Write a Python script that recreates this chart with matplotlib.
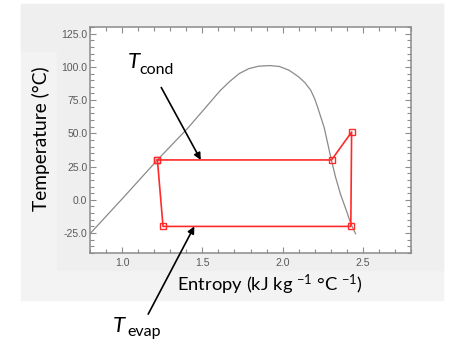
import matplotlib
matplotlib.use("Agg")
import matplotlib.pyplot as plt
from matplotlib.patches import Rectangle
from matplotlib.ticker import MultipleLocator, FormatStrFormatter

# saturation dome (entropy, temperature)
dome_s = [0.80, 1.01, 1.22, 1.41, 1.61, 1.67, 1.73, 1.79, 1.85, 1.92, 1.98,
          2.04, 2.10, 2.14, 2.175, 2.20, 2.22, 2.26, 2.30, 2.33, 2.36, 2.40,
          2.425, 2.455]
dome_t = [-25.5, 2.0, 30.0, 54.0, 82.0, 89.0, 95.0, 98.7, 100.5, 101.0, 100.3,
          97.5, 92.5, 88.0, 82.5, 76.0, 69.0, 54.0, 32.0, 17.0, 4.5, -9.0,
          -18.0, -25.5]

# refrigeration cycle points
cycle_s = [1.22, 1.255, 2.425, 2.43, 2.305, 1.22]
cycle_t = [30.0, -20.0, -20.0, 51.0, 30.0, 30.0]

W, H = 449, 347


def px(x, y):
    # picture pixels -> figure fraction
    return x / W, 1 - y / H


plt.rcParams['mathtext.fontset'] = 'custom'
plt.rcParams['mathtext.rm'] = 'Lato'
plt.rcParams['mathtext.it'] = 'Lato:italic'
plt.rcParams['mathtext.default'] = 'regular'

fig = plt.figure(figsize=(W / 100, H / 100), dpi=100)
fig.patch.set_facecolor('white')


# grey background panels of the pasted screenshot
def panel(x0, y0, x1, y1, color):
    fx0, fy1 = px(x0, y0)
    fx1, fy0 = px(x1, y1)
    fig.patches.append(Rectangle((fx0, fy0), fx1 - fx0, fy1 - fy0,
                                 transform=fig.transFigure, color=color,
                                 zorder=-3))


panel(21, 4, 443, 300, '#f3f3f3')
panel(57, 4, 443, 270, '#efefef')
panel(21, 4, 57, 51, '#efefef')

l, t = px(90, 27)
r, b = px(411, 253)
ax = fig.add_axes([l, b, r - l, t - b])
ax.set_facecolor('white')

ax.plot(dome_s, dome_t, color='#8a8a8a', lw=0.9)
ax.plot(cycle_s, cycle_t, color='#ff2a2a', lw=1.2, marker='s', ms=4,
        mfc='none', mec='#ff2a2a', mew=1.0)

ax.set_xlim(0.8, 2.8)
ax.set_ylim(-40, 130)
ax.xaxis.set_major_locator(MultipleLocator(0.5))
ax.xaxis.set_minor_locator(MultipleLocator(0.1))
ax.yaxis.set_major_locator(MultipleLocator(25))
ax.yaxis.set_minor_locator(MultipleLocator(5))
ax.xaxis.set_major_formatter(FormatStrFormatter('%.1f'))
ax.yaxis.set_major_formatter(FormatStrFormatter('%.1f'))

ax.tick_params(which='both', direction='in', top=True, right=True,
               color='#8c8c8c', width=0.8)
ax.tick_params(which='major', length=4.5)
ax.tick_params(which='minor', length=2.8)
ax.tick_params(axis='y', pad=2)
ax.tick_params(axis='x', pad=3.5)
for lab in ax.get_xticklabels() + ax.get_yticklabels():
    lab.set_fontfamily('Liberation Sans')
    lab.set_fontsize(7.5)
    lab.set_color('#5a5a5a')
for sp in ax.spines.values():
    sp.set_color('#8c8c8c')
    sp.set_linewidth(1.1)

# axis titles placed where the picture has them
fig.text(*px(41, 139), 'Temperature (°C)', rotation=90, ha='center',
         va='center', fontsize=13.8, family='Lato')
fig.text(*px(270, 291), 'Entropy (kJ kg $^{-1}$ °C $^{-1}$)', ha='center',
         va='baseline', fontsize=13.2, family='Lato')

fig.text(*px(128, 68), 'T', fontsize=16, family='Lato', style='italic',
         va='baseline')
fig.text(*px(139, 74), 'cond', fontsize=11.5, family='Lato', va='baseline')
fig.text(*px(113, 332), 'T', fontsize=16, family='Lato', style='italic',
         va='baseline')
fig.text(*px(127, 336), 'evap', fontsize=11.5, family='Lato', va='baseline')

arrow = dict(arrowstyle='-|>', color='black', lw=1.2, mutation_scale=10,
             shrinkA=0, shrinkB=0)
ax.annotate('', xy=(1.49, 30), xytext=(1.244, 84.5), arrowprops=arrow,
            annotation_clip=False)
ax.annotate('', xy=(1.45, -20), xytext=(1.1625, -86), arrowprops=arrow,
            annotation_clip=False)

fig.savefig('out.png', dpi=100)
